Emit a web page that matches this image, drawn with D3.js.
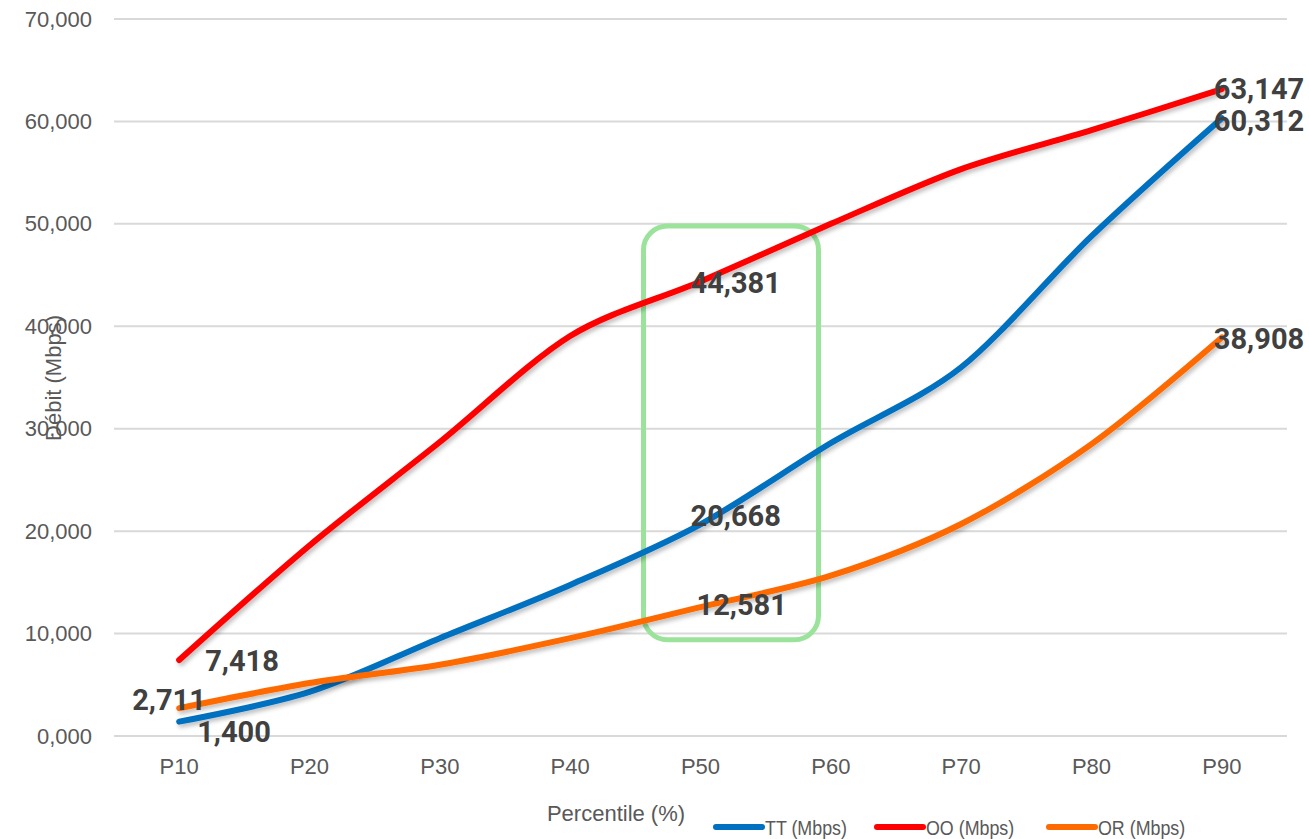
<!DOCTYPE html>
<meta charset="utf-8">
<style>
    body {
        margin: 0;
        background: #fff;
        font-family: "Liberation Sans", Arial, sans-serif;
    }

    .tick text {
        fill: #595959;
        font-size: 22px;
    }

    .lbl {
        font-family: Roboto, "Liberation Sans", sans-serif;
        font-weight: bold;
        font-size: 29px;
        fill: #404040;
    }
</style>
<svg width="1309" height="839"></svg>
<script src="https://d3js.org/d3.v7.min.js"></script>
<script>
    // data
    var percentiles = ["P10", "P20", "P30", "P40", "P50", "P60", "P70", "P80", "P90"];
    var ttValues = [1400, 4300, 9550, 14750, 20668, 28600, 36000, 48800, 60312];
    var ooValues = [7418, 18600, 28700, 39050, 44381, 50000, 55350, 59150, 63147];
    var orValues = [2711, 5170, 6950, 9550, 12581, 15650, 20700, 28500, 38908];
    var yTicks = [0, 10000, 20000, 30000, 40000, 50000, 60000, 70000];
    var seriesNames = ["TT (Mbps)", "OO (Mbps)", "OR (Mbps)"];
    var seriesColors = ["#0070C0", "#FF0000", "#FF6A00"];
    var labelIdx = [0, 4, 8]; // points that carry a data label

    var svg = d3.select("svg"),
        width = +svg.attr("width"),
        height = +svg.attr("height");

    var margin = {top: 19, right: 22, bottom: 103, left: 114};

    var x = d3.scaleBand()
        .domain(percentiles)
        .range([margin.left, width - margin.right]);

    var y = d3.scaleLinear()
        .domain([0, 70000])
        .range([height - margin.bottom, margin.top]);

    var fmt = d3.format(",");

    var defs = svg.append("defs");
    var shadow = defs.append("filter").attr("id", "shadow")
        .attr("x", "-10%").attr("y", "-10%").attr("width", "120%").attr("height", "120%");
    shadow.append("feDropShadow")
        .attr("dx", 2).attr("dy", 3).attr("stdDeviation", 2)
        .attr("flood-color", "#000").attr("flood-opacity", 0.25);

    // grid
    svg.append("g")
        .selectAll("line")
        .data(yTicks)
        .enter().append("line")
        .attr("x1", margin.left)
        .attr("x2", width - margin.right)
        .attr("y1", d => y(d))
        .attr("y2", d => y(d))
        .style("stroke", "#D9D9D9")
        .style("stroke-width", 2);

    // y axis (excel shows the values as "N,000")
    svg.append("g")
        .attr("transform", `translate(${margin.left - 12},0)`)
        .call(d3.axisLeft(y).tickValues(yTicks).tickSize(0).tickPadding(10)
            .tickFormat(d => (d === 0 ? "0" : fmt(d / 1000)) + ",000"))
        .call(g => g.select(".domain").remove());

    // x axis
    svg.append("g")
        .attr("transform", `translate(0,${height - margin.bottom + 10})`)
        .call(d3.axisBottom(x).tickSize(0).tickPadding(12))
        .call(g => g.select(".domain").remove());

    // axis titles
    svg.append("text")
        .attr("transform", "translate(53,378) rotate(-90)")
        .attr("text-anchor", "middle")
        .attr("dominant-baseline", "central")
        .style("font-size", "22px")
        .style("fill", "#595959")
        .text("Débit (Mbps)");

    svg.append("text")
        .attr("x", 616)
        .attr("y", 821)
        .attr("text-anchor", "middle")
        .style("font-size", "22px")
        .style("fill", "#595959")
        .text("Percentile (%)");

    // highlight box round P50
    svg.append("rect")
        .attr("x", x("P50") + x.bandwidth() / 2 - 57)
        .attr("y", y(49800))
        .attr("width", 175)
        .attr("height", y(9400) - y(49800))
        .attr("rx", 24)
        .style("fill", "none")
        .style("stroke", "#9BE39B")
        .style("stroke-width", 5);

    var series = [ttValues, ooValues, orValues];

    var line = d3.line()
        .x((d, i) => x(percentiles[i]) + x.bandwidth() / 2)
        .y(d => y(d))
        .curve(d3.curveCardinal.tension(0.1));

    svg.append("g")
        .selectAll("path")
        .data(series)
        .enter().append("path")
        .attr("d", d => line(d))
        .attr("filter", "url(#shadow)")
        .style("fill", "none")
        .style("stroke", (d, i) => seriesColors[i])
        .style("stroke-width", 6)
        .style("stroke-linecap", "round")
        .style("stroke-linejoin", "round");

    // data labels: [dx, dy] per series, per labelled point
    var labelPos = [
        [[18, 10], [-10, -8], [-8, 3]],
        [[26, 1], [-10, 2], [-8, 0]],
        [[-47, -8], [-4, -2], [-8, 2]]
    ];

    series.forEach(function (vals, s) {
        labelIdx.forEach(function (idx, k) {
            var p = labelPos[s][k];
            svg.append("text")
                .attr("class", "lbl")
                .attr("x", x(percentiles[idx]) + x.bandwidth() / 2 + p[0])
                .attr("y", y(vals[idx]) + p[1])
                .attr("dominant-baseline", "central")
                .text(fmt(vals[idx]));
        });
    });

    // legend
    var legendX = [714, 875, 1047];
    var legend = svg.append("g")
        .selectAll("g")
        .data(seriesNames)
        .enter().append("g")
        .attr("transform", (d, i) => `translate(${legendX[i]},827)`);

    legend.append("line")
        .attr("x1", 2).attr("x2", 48)
        .style("stroke", (d, i) => seriesColors[i])
        .style("stroke-width", 6)
        .style("stroke-linecap", "round");

    // legend font in the original is narrow, so squeeze it a bit
    legend.append("text")
        .attr("transform", "translate(51,0) scale(0.85,1)")
        .attr("dominant-baseline", "central")
        .style("font-size", "21px")
        .style("fill", "#595959")
        .text(d => d);
</script>
